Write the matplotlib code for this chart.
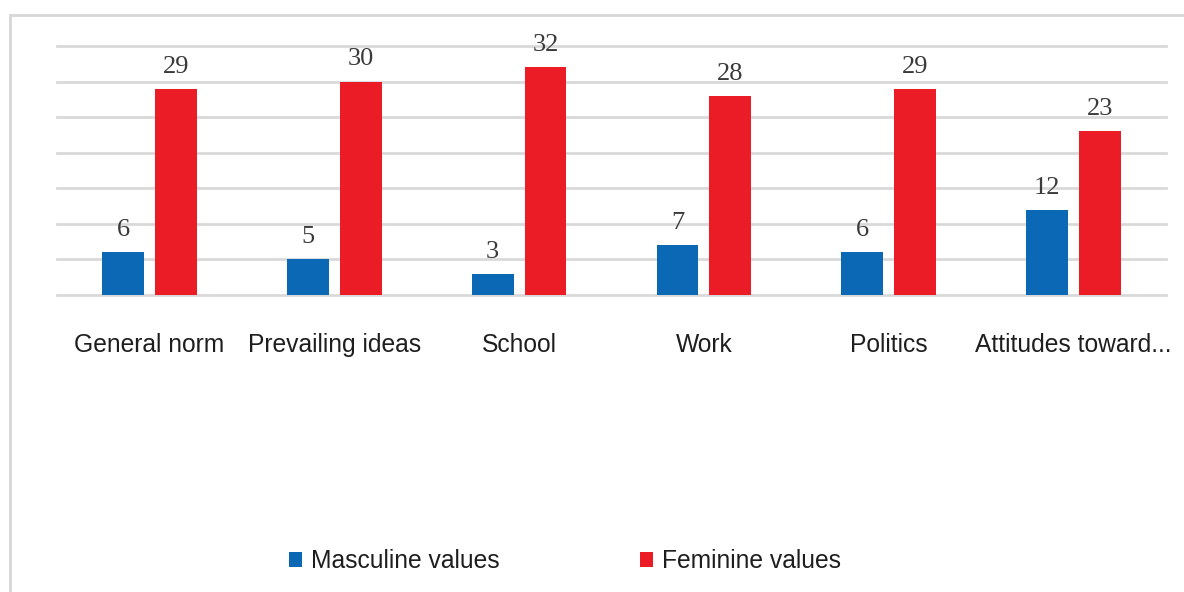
import matplotlib
matplotlib.use("Agg")
import matplotlib.pyplot as plt
from matplotlib.patches import Rectangle
import numpy as np

categories = ["General norm", "Prevailing ideas", "School", "Work", "Politics", "Attitudes toward..."]
masculine = [6, 5, 3, 7, 6, 12]
feminine = [29, 30, 32, 28, 29, 23]
series_names = ["Masculine values", "Feminine values"]
colors = ["#0b68b5", "#ec1c26"]

W, H = 1184, 592
fig = plt.figure(figsize=(W / 100, H / 100), dpi=100)
fig.patch.set_facecolor("white")

# outer frame
fig.patches.append(Rectangle((10 / W, -0.1), 1.2, 1 - 15 / H + 0.1, transform=fig.transFigure,
                             fill=False, edgecolor="#d6d6d6", linewidth=2))

ax = fig.add_axes([57 / W, 1 - 295 / H, (1166 - 57) / W, (295 - 46) / H])
x = np.arange(len(categories))
bw = 0.227
off = 0.143
b1 = ax.bar(x - off, masculine, bw, color=colors[0], label=series_names[0], zorder=3)
b2 = ax.bar(x + off, feminine, bw, color=colors[1], label=series_names[1], zorder=3)

ax.set_xlim(-0.5, len(categories) - 0.5)
ax.set_ylim(0, 35)
ax.set_yticks(np.arange(0, 36, 5))
ax.yaxis.grid(True, color="#d9d9d9", linewidth=2)
for gl in ax.get_ygridlines():
    gl.set_clip_on(False)
ax.set_axisbelow(True)
for s in ax.spines.values():
    s.set_visible(False)
ax.tick_params(axis="y", left=False, labelleft=False)
ax.tick_params(axis="x", bottom=False, pad=24)
ax.set_xticks(x)
ax.set_xticklabels(categories, fontsize=17.7, family="Liberation Sans", color="#1e1e1e")

for bars, vals in ((b1, masculine), (b2, feminine)):
    for r, v in zip(bars, vals):
        ax.annotate(str(v), (r.get_x() + r.get_width() / 2, v), xytext=(0, 8),
                    textcoords="offset points", ha="center", va="bottom",
                    fontsize=19, family="Liberation Serif", color="#3a3a3a")

leg = fig.legend(handles=[b1, b2], labels=series_names, loc="center",
                 bbox_to_anchor=(565 / W, 1 - 561 / H), ncol=2, frameon=False,
                 prop={"family": "Liberation Sans", "size": 17.7},
                 handlelength=0.53, handleheight=0.53, handletextpad=0.37, columnspacing=5.7)
for t in leg.get_texts():
    t.set_color("#1e1e1e")

fig.savefig("out.png", dpi=100, facecolor="white")
